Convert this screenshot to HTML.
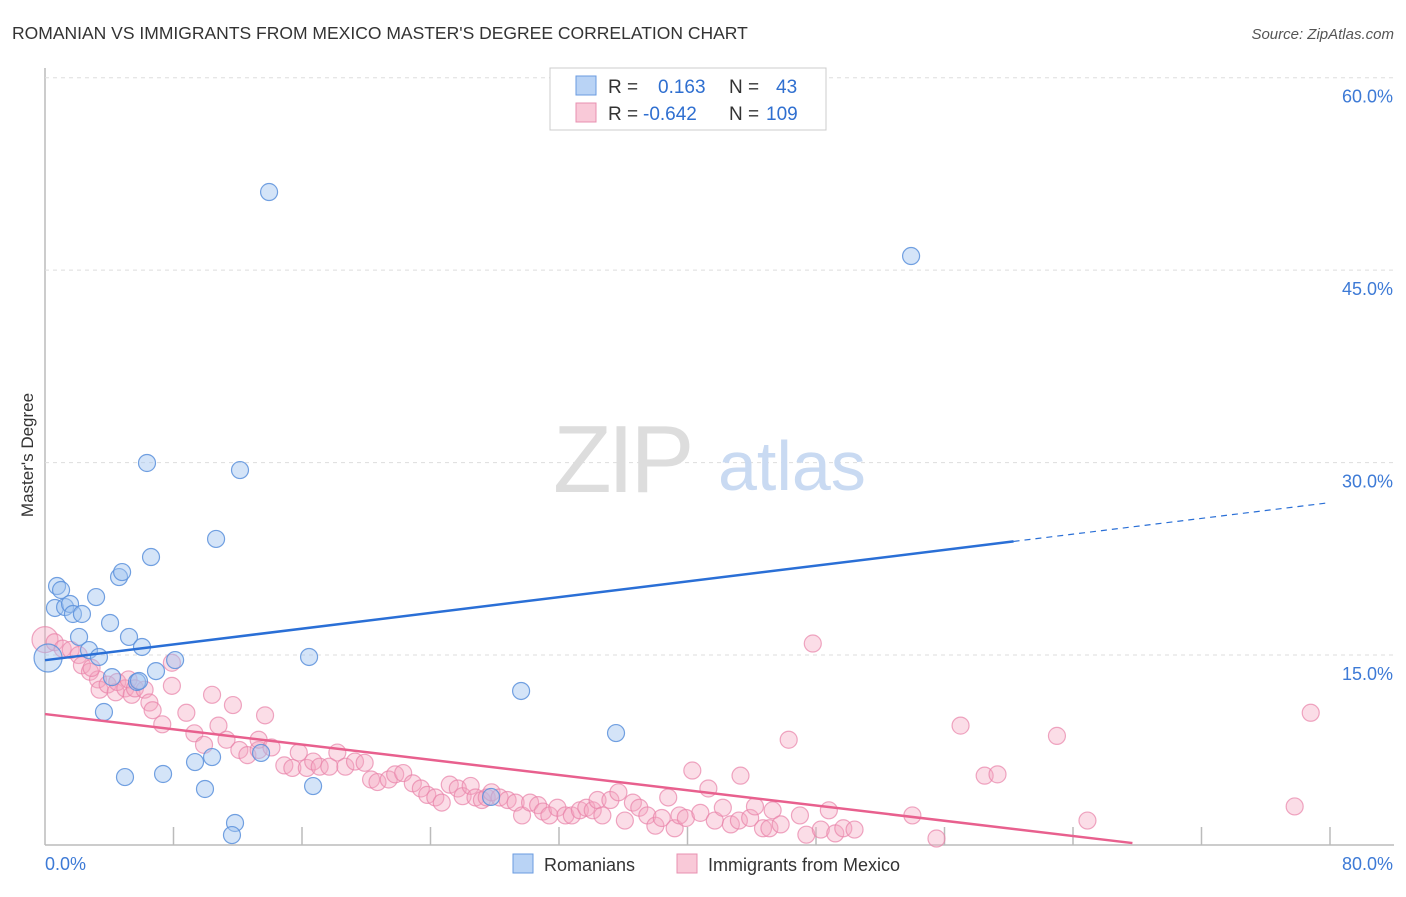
<!DOCTYPE html>
<html><head><meta charset="utf-8"><style>
body{margin:0;background:#fff;font-family:"Liberation Sans",sans-serif;}
svg text{font-family:"Liberation Sans",sans-serif;}
</style></head><body>
<svg id="chart" width="1406" height="892" viewBox="0 0 1406 892" xmlns="http://www.w3.org/2000/svg">
<text x="12" y="39" font-size="17.5" fill="#333">ROMANIAN VS IMMIGRANTS FROM MEXICO MASTER'S DEGREE CORRELATION CHART</text>
<text x="1394" y="39" font-size="15" fill="#555" text-anchor="end" font-style="italic">Source: ZipAtlas.com</text>
<g id="grid"></g>
<g>
<text x="553" y="492" font-size="96" fill="#ddd" font-family="Liberation Serif" letter-spacing="-4">ZIP</text>
<text x="718" y="490" font-size="70" fill="#c9daf2">atlas</text>
</g>
<text transform="translate(33,455) rotate(-90)" font-size="17" fill="#333" text-anchor="middle">Master's Degree</text>
<g id="marks"></g>
<g id="trends"></g>
<g>
<rect x="550" y="68" width="276" height="62" fill="#fff" stroke="#ccc"/>
<rect x="576" y="76" width="20" height="19" fill="#b9d3f5" stroke="#6a9be0"/>
<rect x="576" y="103" width="20" height="19" fill="#f9c9d8" stroke="#e890b0"/>
<text x="608" y="93" font-size="19" fill="#333">R =</text>
<text x="658" y="93" font-size="19" fill="#2f6fd0">0.163</text>
<text x="729" y="93" font-size="19" fill="#333">N =</text>
<text x="776" y="93" font-size="19" fill="#2f6fd0">43</text>
<text x="608" y="120" font-size="19" fill="#333">R =</text>
<text x="643" y="120" font-size="19" fill="#2f6fd0">-0.642</text>
<text x="729" y="120" font-size="19" fill="#333">N =</text>
<text x="766" y="120" font-size="19" fill="#2f6fd0">109</text>
</g>
<g>
<rect x="513" y="854" width="20" height="19" fill="#b9d3f5" stroke="#6a9be0"/>
<text x="544" y="871" font-size="18" fill="#333">Romanians</text>
<rect x="677" y="854" width="20" height="19" fill="#f9c9d8" stroke="#e890b0"/>
<text x="708" y="871" font-size="18" fill="#333">Immigrants from Mexico</text>
</g>
</svg>
<script>
const yTicks=[15,30,45,60];
const xTickVals=[0,8,16,24,32,40,48,56,64,72,80];
const xLabels=["0.0%","80.0%"];
const blueX=[0.19,0.62,0.75,1.0,1.25,1.56,1.74,2.3,2.12,2.74,3.18,3.36,3.67,4.05,4.17,4.61,4.8,4.98,5.23,5.73,5.85,6.04,6.35,6.6,6.91,7.35,8.1,9.34,9.96,10.4,10.65,11.83,11.64,12.14,13.45,13.95,16.44,16.69,27.77,29.64,35.55,53.92];
const blueY=[14.77,18.67,20.38,20.07,18.74,18.98,18.2,18.2,16.41,15.39,19.52,14.85,10.56,17.5,13.28,21.08,21.47,5.49,16.41,12.9,12.98,15.63,29.97,22.64,13.75,5.73,14.61,6.66,4.56,7.05,24.05,1.91,0.97,29.42,7.37,51.09,14.85,4.79,3.94,12.2,8.92,46.1];
const pinkX=[0,0.6,1.1,1.6,2.1,2.3,2.8,3.3,2.9,3.4,3.9,4.4,4.5,5.0,5.2,5.4,5.6,6.2,6.5,6.7,7.3,7.9,7.9,8.8,9.3,9.9,10.4,10.8,11.3,11.7,12.1,12.6,13.3,13.7,13.3,14.1,14.9,15.4,15.8,16.3,16.7,17.1,17.7,18.2,18.7,19.3,19.9,20.3,20.7,21.4,21.8,22.3,22.9,23.4,23.8,24.3,24.7,25.2,25.7,26.0,26.5,26.8,27.2,27.5,27.8,28.3,28.8,29.3,29.7,30.2,30.7,31.0,31.4,31.9,32.4,32.8,33.3,33.7,34.1,34.4,34.7,35.2,35.7,36.1,36.6,37.0,37.5,38.0,38.4,38.8,39.2,39.5,39.9,40.3,40.8,41.3,41.7,42.2,42.7,43.2,43.3,43.9,44.2,44.7,45.1,45.3,45.8,46.3,47.0,47.4,47.8,48.3,48.8,49.2,49.7,50.4,54.0,55.5,57.0,58.5,59.3,63.0,64.9,77.8,78.8];
const pinkY=[16.2,16.0,15.5,15.4,15.0,14.2,13.7,13.1,14.0,12.3,12.7,12.1,12.9,12.4,13.1,11.9,12.4,12.3,11.3,10.7,9.6,14.4,12.6,10.5,8.9,8.0,11.9,9.5,8.4,11.1,7.6,7.2,7.6,10.3,8.4,7.8,6.4,6.2,7.4,6.2,6.7,6.3,6.3,7.4,6.3,6.7,6.6,5.3,5.1,5.3,5.7,5.8,5.0,4.6,4.1,3.9,3.5,4.9,4.6,4.0,4.8,3.9,3.7,3.9,4.3,3.9,3.7,3.5,2.5,3.5,3.3,2.8,2.5,3.1,2.5,2.5,2.9,3.1,2.9,3.7,2.5,3.7,4.3,2.1,3.5,3.1,2.5,1.7,2.3,3.9,1.5,2.5,2.3,6.0,2.7,4.6,2.1,3.1,1.8,2.1,5.6,2.3,3.2,1.5,1.5,2.9,1.8,8.4,2.5,1.0,15.9,1.4,2.9,1.1,1.5,1.4,2.5,0.7,9.5,5.6,5.7,8.7,2.1,3.2,10.5];
const blueTrend=[14.6,0.1535]; // intercept, slope
const blueSolidEnd=60.3;
const pinkTrend=[10.4,-0.1485];
const pinkEnd=67.7;

const NS="http://www.w3.org/2000/svg";
const X0=45,X1=1330,Y0=847.5,PXY=12.83;
const sx=v=>X0+v*(X1-X0)/80;
const sy=v=>Y0-v*PXY;
function mk(tag,attrs,parent){const e=document.createElementNS(NS,tag);for(const k in attrs)e.setAttribute(k,attrs[k]);parent.appendChild(e);return e;}
const svg=document.getElementById('chart');
const grid=document.getElementById('grid');
const marks=document.getElementById('marks');
const trends=document.getElementById('trends');
// axes
let ax=mk('line',{x1:45,y1:68,x2:45,y2:845,stroke:'#bbb','stroke-width':1.5},grid);


let bx=mk('line',{x1:45,y1:845,x2:1394,y2:845,stroke:'#bbb','stroke-width':1.5},grid);


yTicks.forEach(t=>{
 const g=mk('line',{x1:45,y1:sy(t),x2:1394,y2:sy(t),stroke:'#ddd','stroke-dasharray':'4,4'},grid);
 
 
 const l=mk('text',{x:1393,y:sy(t)+25,'font-size':18,fill:'#3d7ad6','text-anchor':'end'},grid);
 l.textContent=t.toFixed(1)+'%';
 
 
});
xTickVals.forEach((t,i)=>{
 if(i===0)return;
 const g=mk('line',{x1:sx(t),y1:827,x2:sx(t),y2:845,stroke:'#bbb','stroke-width':1.5},grid);
 
 
});
[[0,'start',45],[80,'end',1393]].forEach((d,i)=>{
 const l=mk('text',{x:d[2],y:870,'font-size':18,fill:'#3d7ad6','text-anchor':d[1]},grid);
 l.textContent=xLabels[i];
 
 
});
pinkX.forEach((v,i)=>{
 const r=i===0?13:8.5;
 const c=mk('circle',{cx:sx(v),cy:sy(pinkY[i]),r:r,fill:'rgba(245,165,192,0.38)',stroke:'rgba(232,130,168,0.7)','stroke-width':1.2},marks);
 
 
});
blueX.forEach((v,i)=>{
 const r=i===0?14:8.5;
 const c=mk('circle',{cx:sx(v),cy:sy(blueY[i]),r:r,fill:'rgba(160,196,240,0.45)',stroke:'rgba(90,145,220,0.85)','stroke-width':1.2},marks);
 
 
});
const bt=x=>blueTrend[0]+blueTrend[1]*x;
let l1=mk('line',{x1:sx(0),y1:sy(bt(0)),x2:sx(blueSolidEnd),y2:sy(bt(blueSolidEnd)),stroke:'#2a6fd6','stroke-width':2.5},trends);


let l2=mk('line',{x1:sx(blueSolidEnd),y1:sy(bt(blueSolidEnd)),x2:sx(80),y2:sy(bt(80)),stroke:'#2a6fd6','stroke-width':1.2,'stroke-dasharray':'6,5'},trends);


const pt=x=>pinkTrend[0]+pinkTrend[1]*x;
let l3=mk('line',{x1:sx(0),y1:sy(pt(0)),x2:sx(pinkEnd),y2:sy(pt(pinkEnd)),stroke:'#e8608e','stroke-width':2.5},trends);


</script>
</body></html>
